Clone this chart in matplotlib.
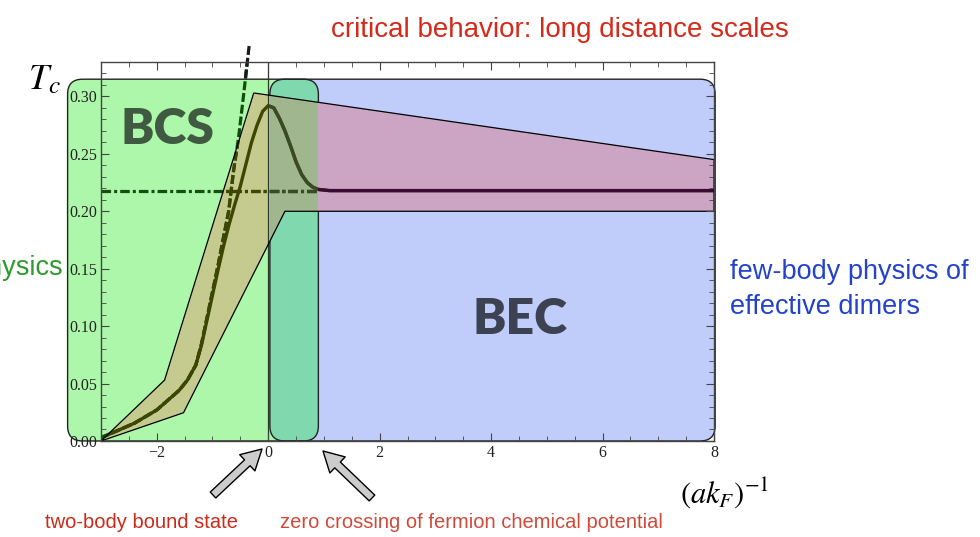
import matplotlib.pyplot as plt
from matplotlib.patches import FancyBboxPatch, Polygon, Rectangle, FancyArrowPatch
from matplotlib.ticker import MultipleLocator, FormatStrFormatter

plt.rcParams['mathtext.fontset'] = 'stix'
plt.rcParams['font.family'] = ['Liberation Sans', 'DejaVu Sans']

# Tc curve (solid)
tc_x = [-3.0, -2.8, -2.4, -2.0, -1.6, -1.45, -1.3, -1.2, -1.1, -1.0, -0.9, -0.8,
        -0.7, -0.6, -0.5, -0.4, -0.3, -0.2, -0.1, 0.0, 0.1, 0.2, 0.3, 0.4, 0.5,
        0.6, 0.7, 0.8, 0.9, 1.1, 8.0]
tc_y = [0.003, 0.007, 0.0155, 0.027, 0.044, 0.053, 0.066, 0.083, 0.105, 0.127,
        0.149, 0.170, 0.189, 0.206, 0.222, 0.241, 0.260, 0.275, 0.287, 0.292,
        0.290, 0.281, 0.270, 0.257, 0.243, 0.232, 0.225, 0.221, 0.219, 0.218,
        0.218]

# BCS asymptote (dashed)
bcs_x = [-3.0, -2.8, -2.4, -2.0, -1.6, -1.45, -1.3, -1.2, -1.1, -1.0, -0.9,
         -0.8, -0.71, -0.62, -0.53, -0.44, -0.38, -0.34]
bcs_y = [0.003, 0.007, 0.0155, 0.027, 0.044, 0.053, 0.066, 0.084, 0.107, 0.130,
         0.153, 0.178, 0.200, 0.236, 0.265, 0.302, 0.328, 0.345]

# BEC limit (dash-dot)
bec_x = [-3.0, 0.9]
bec_y = [0.218, 0.218]

# uncertainty band
band_x = [-3.0, -1.86, -0.26, 8.0, 8.0, 0.30, -1.52]
band_y = [0.0, 0.053, 0.303, 0.245, 0.200, 0.200, 0.0246]

x_ticks = [-2, 0, 2, 4, 6, 8]
y_ticks = [0.00, 0.05, 0.10, 0.15, 0.20, 0.25, 0.30]

fig = plt.figure(figsize=(9.8, 5.37), dpi=100)
ax = fig.add_axes([0.1031, 0.1788, 0.6255, 0.7058])
xmin, xmax, ymin, ymax = -3, 8, 0, 0.33
ax.set_xlim(xmin, xmax)
ax.set_ylim(ymin, ymax)

# keep the rounded corners round although x and y scales differ
bb = ax.get_position()
px_x = bb.width * fig.get_figwidth() * fig.dpi / (xmax - xmin)
px_y = bb.height * fig.get_figheight() * fig.dpi / (ymax - ymin)
asp = px_x / px_y
rad = 15 / px_x
box_top = 0.315


def rbox(x0, x1, **kw):
    return FancyBboxPatch((x0, 0), x1 - x0, box_top,
                          boxstyle=f'round,pad=0,rounding_size={rad}',
                          mutation_aspect=asp, transform=ax.transData, **kw)


def xclip(x0, x1):
    return Rectangle((x0, -1), x1 - x0, 3, transform=ax.transData)


# BCS / BEC regions
green_box = rbox(-3.6, 0.9, fc='#adf7aa', ec='none', clip_on=False, zorder=0.6)
blue_box = rbox(0.03, 8.02, fc='#c0ccfa', ec='none', clip_on=False, zorder=0.6)
ax.add_patch(green_box)
ax.add_patch(blue_box)
teal = rbox(-3.6, 0.9, fc='#80d8ae', ec='none', zorder=0.7)
ax.add_patch(teal)
teal.set_clip_path(blue_box)
ax.add_patch(rbox(-3.6, 0.9, fc='none', ec='#222222', lw=1, clip_on=False, zorder=0.8))
ax.add_patch(rbox(0.03, 8.02, fc='none', ec='#222222', lw=1, clip_on=False, zorder=0.8))

# band, coloured by the region it sits in
band_xy = list(zip(band_x, band_y))
regions = [(-4, 0.03), (0.03, 0.9), (0.9, 9)]
band_cols = ['#c5cb8e', '#9fb68e', '#cca5c5']
for (x0, x1), fc in zip(regions, band_cols):
    p = Polygon(band_xy, closed=True, fc=fc, ec='none', zorder=1)
    ax.add_patch(p)
    p.set_clip_path(xclip(x0, x1))
band = Polygon(band_xy, closed=True, fc='none', ec='k', lw=0.9, zorder=1.4)
ax.add_patch(band)

ax.axvline(0, color='#2b3a2b', lw=0.9, zorder=1.1)

mid = xclip(0.03, 0.9)
right = xclip(0.9, 9)
above = Rectangle((-4, box_top), 13, 1, transform=ax.transData)


def draw(x, y, layers, z, **kw):
    for col, clip in layers:
        ln, = ax.plot(x, y, color=col, zorder=z, **kw)
        if clip is not None:
            ln.set_clip_path(clip)


draw(bec_x, bec_y, [('#16500f', None), ('#3e4600', band), ('#3b4a26', mid)], 1.2,
     lw=2.3, dashes=(3.0, 0.95, 0.95, 0.95))
draw(tc_x, tc_y, [('#3e4600', None), ('#3b4a26', mid), ('#3b0c32', right)], 1.25,
     lw=2.4, solid_capstyle='butt')
draw(bcs_x, bcs_y, [('#0e4f0e', None), ('#3e4600', band), ('#1a1a1a', above)], 1.3,
     lw=2.3, dashes=(2.8, 0.9))

# axes styling
ax.set_xticks(x_ticks)
ax.set_yticks(y_ticks)
ax.xaxis.set_minor_locator(MultipleLocator(0.5))
ax.yaxis.set_minor_locator(MultipleLocator(0.01))
ax.yaxis.set_major_formatter(FormatStrFormatter('%.2f'))
ax.tick_params(which='both', direction='in', top=True, right=True, color='#444444',
               labelsize=11.5, labelcolor='#222222',
               labelfontfamily='Liberation Serif', pad=3)
ax.tick_params(which='major', length=6)
ax.tick_params(which='minor', length=3.5)
for s in ax.spines.values():
    s.set_color('#444444')
    s.set_linewidth(1)

# labels and annotations
W, H = 980, 537


def ftext(x, y, s, **kw):
    fig.text(x / W, 1 - y / H, s, **kw)


ftext(44, 80, '$T_c$', fontsize=26, ha='center', va='center')
ftext(725, 493, '$(ak_F)^{-1}$', fontsize=22, ha='center', va='center')
ftext(560, 30, 'critical behavior: long distance scales', fontsize=20,
      color='#d52a1a', ha='center', va='center')
ftext(63, 268, 'physics', fontsize=19.5, color='#2f9a2f', ha='right', va='center')
ftext(730, 272, 'few-body physics of', fontsize=19.5, color='#2443cc', va='center')
ftext(730, 307, 'effective dimers', fontsize=19.5, color='#2443cc', va='center')
ftext(45, 523, 'two-body bound state', fontsize=14.5, color='#cc2a1a', va='center')
ftext(280, 523, 'zero crossing of fermion chemical potential', fontsize=14.5,
      color='#cf4a3a', va='center')
ftext(167, 130, 'BCS', fontsize=36, family='Lato', weight='heavy', color='#3f5a41',
      ha='center', va='center')
ftext(520, 320, 'BEC', fontsize=36, family='Lato', weight='heavy', color='#3c4252',
      ha='center', va='center')

for tail, tip in [((213, 495), (262, 449)), ((372, 498), (323, 451))]:
    arr = FancyArrowPatch((tail[0] / W, 1 - tail[1] / H), (tip[0] / W, 1 - tip[1] / H),
                          transform=fig.transFigure,
                          arrowstyle='simple,head_length=1.45,head_width=1.6,tail_width=0.58',
                          mutation_scale=10, fc='#cccccc', ec='k', lw=1,
                          shrinkA=0, shrinkB=0)
    fig.add_artist(arr)

fig.savefig('out.png', dpi=100)
